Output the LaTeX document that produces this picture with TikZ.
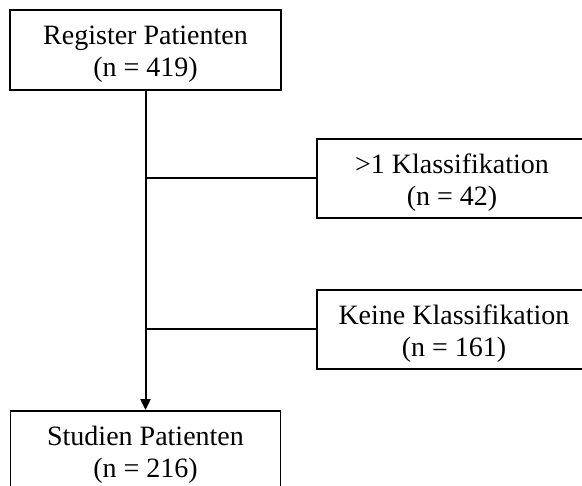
\documentclass[tikz,border=0pt]{standalone}
\usepackage{fontspec}
\setmainfont{Liberation Serif}
\usetikzlibrary{arrows.meta}
\begin{document}
\begin{tikzpicture}[x=1pt,y=-1pt,
  box/.style={draw, line width=1.8pt, rectangle, inner sep=0pt},
  txt/.style={align=center, inner sep=0pt, yshift=-4pt,
    font=\fontsize{28}{32}\selectfont},
  conn/.style={line width=2pt}]
\useasboundingbox (0,0) rectangle (582,486);
\clip (0,0) rectangle (582,486);
\node[box, minimum width=271pt, minimum height=80pt,
  label={[txt]center:Register Patienten\\(n = 419)}] (reg) at (145.5,50) {};
\node[box, minimum width=270pt, minimum height=79pt,
  label={[txt]center:>1 Klassifikation\\(n = 42)}] (kl) at (452,178.5) {};
\node[box, minimum width=274pt, minimum height=79pt,
  label={[txt]center:Keine Klassifikation\\(n = 161)}] (kk) at (454,329.5) {};
\node[box, minimum width=270pt, minimum height=80pt,
  label={[txt]center:Studien Patienten\\(n = 216)}] (stud) at (145.5,451) {};
\draw[conn, -{Triangle[length=11pt,width=10pt]}] (reg.south) -- (stud.north);
\draw[conn] (reg.south |- kl.west) -- (kl.west);
\draw[conn] (reg.south |- kk.west) -- (kk.west);
\end{tikzpicture}
\end{document}
